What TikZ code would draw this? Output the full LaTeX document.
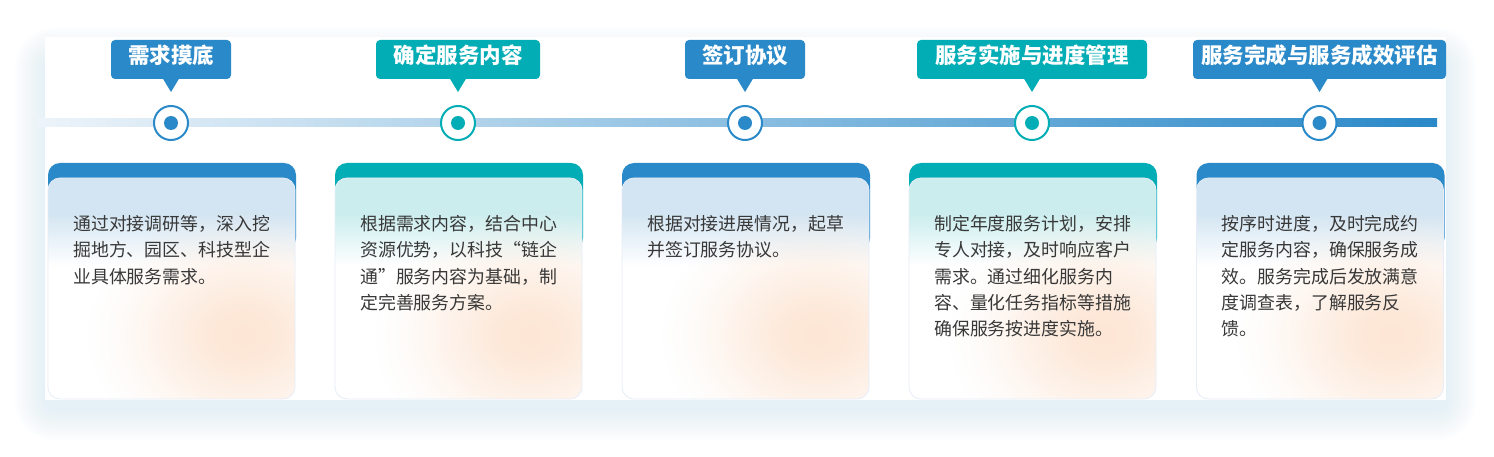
\documentclass[tikz,border=0pt]{standalone}
\usepackage{fontspec}
\newfontfamily\cjk{Noto Sans CJK SC}
\usetikzlibrary{fadings}
\definecolor{cblue}{HTML}{2A89C8}
\definecolor{cteal}{HTML}{03ADB5}
\definecolor{topblue}{HTML}{D3E5F2}
\definecolor{topteal}{HTML}{CBEDEE}
\definecolor{peach}{HTML}{FDE6D5}
\definecolor{txt}{HTML}{383838}
\definecolor{glowc}{HTML}{CFE4F7}
\definecolor{lineL}{HTML}{EDF4FA}
\definecolor{cardedge}{HTML}{E6EDF8}
\pgfdeclareverticalshading{cardshB}{100bp}{color(0bp)=(white); color(55bp)=(white); color(67bp)=(topblue); color(100bp)=(topblue)}
\pgfdeclareverticalshading{cardshT}{100bp}{color(0bp)=(white); color(55bp)=(white); color(67bp)=(topteal); color(100bp)=(topteal)}
\pgfdeclareradialshading{glowsh}{\pgfpointorigin}{color(0bp)=(pgftransparent!0); color(5bp)=(pgftransparent!10); color(11bp)=(pgftransparent!40); color(17bp)=(pgftransparent!72); color(22bp)=(pgftransparent!93); color(25bp)=(pgftransparent!100); color(50bp)=(pgftransparent!100)}
\pgfdeclarefading{glowfade}{\pgfuseshading{glowsh}}
\newcommand\mycard[5]{%
  \fill[#2, rounded corners=12pt] (#1,163) rectangle ++(248,87);
  \shade[shading=#3, rounded corners=12pt] (#1,178) rectangle ++(247,221);
  \begin{scope}
    \clip[rounded corners=12pt] (#1,178) rectangle ++(247,221);
    \fill[peach, path fading=glowfade] ({#1+195},335) ellipse (155 and 125);
  \end{scope}
  \draw[cardedge, line width=0.8pt, rounded corners=12pt] (#1,178) rectangle ++(247,221);
  \foreach \l [count=\j] in {#5} {
    \node[cardtxt] (t#4-\j) at ({#1+25},{230.8+(\j-1)*26.2}) {\l};
  }%
}
\begin{document}
\begin{tikzpicture}[x=1pt,y=-1pt,
  lbl/.style={fill=#1, text=white, rounded corners=4pt, minimum height=39pt,
    inner sep=0pt, font=\cjk\bfseries\fontsize{21.5}{21.5}\selectfont,
    text height=0.88em, text depth=0.12em},
  dotring/.style={circle, draw=#1, line width=2pt, fill=white, minimum size=34pt, inner sep=0pt},
  cardtxt/.style={anchor=base west, inner sep=0pt, text=txt, font=\cjk\fontsize{17.9}{26}\selectfont}]
\useasboundingbox (0,0) rectangle (1494,457);
\fill[white] (0,0) rectangle (1494,457);
% soft glow around panel
\foreach \i [evaluate=\i as \r using 2.5*\i+10] in {1,...,12}
  \fill[glowc, opacity=0.045, rounded corners=\r pt] ({45-2.5*\i},{58-2.5*\i}) rectangle ({1446+2.5*\i},{410+2.5*\i});
\fill[white] (45,37) rectangle (1446,400);
% timeline
\shade[left color=lineL, right color=cblue] (37,119) rectangle (1437,127);
% steps
\foreach \cx/\col/\lab/\w [count=\n] in {171/cblue/需求摸底/120, 458/cteal/确定服务内容/164, 745/cblue/签订协议/120, 1032/cteal/服务实施与进度管理/230, 1319.5/cblue/服务完成与服务成效评估/253}{
  \node[dotring=\col] (c\n) at (\cx,123) {};
  \fill[\col] (c\n.center) circle (7);
  \node[lbl=\col, minimum width=\w pt] (l\n) at (\cx,59.5) {\lab};
  \coordinate (p\n) at (\cx,92);
  \fill[\col] ([xshift=-8pt,yshift=0.5pt]l\n.south) -- ([xshift=8pt,yshift=0.5pt]l\n.south) -- (p\n) -- cycle;
}
% cards
\mycard{48}{cblue}{cardshB}{1}{通过对接调研等，深入挖,掘地方、园区、科技型企,业具体服务需求。}
\mycard{335}{cteal}{cardshT}{2}{根据需求内容，结合中心,资源优势，以科技\makebox[1em][r]{“}链企,通\makebox[1em][l]{”}服务内容为基础，制,定完善服务方案。}
\mycard{622}{cblue}{cardshB}{3}{根据对接进展情况，起草,并签订服务协议。}
\mycard{909}{cteal}{cardshT}{4}{制定年度服务计划，安排,专人对接，及时响应客户,需求。通过细化服务内,容、量化任务指标等措施,确保服务按进度实施。}
\mycard{1196.5}{cblue}{cardshB}{5}{按序时进度，及时完成约,定服务内容，确保服务成,效。服务完成后发放满意,度调查表，了解服务反,馈。}
\end{tikzpicture}
\end{document}
